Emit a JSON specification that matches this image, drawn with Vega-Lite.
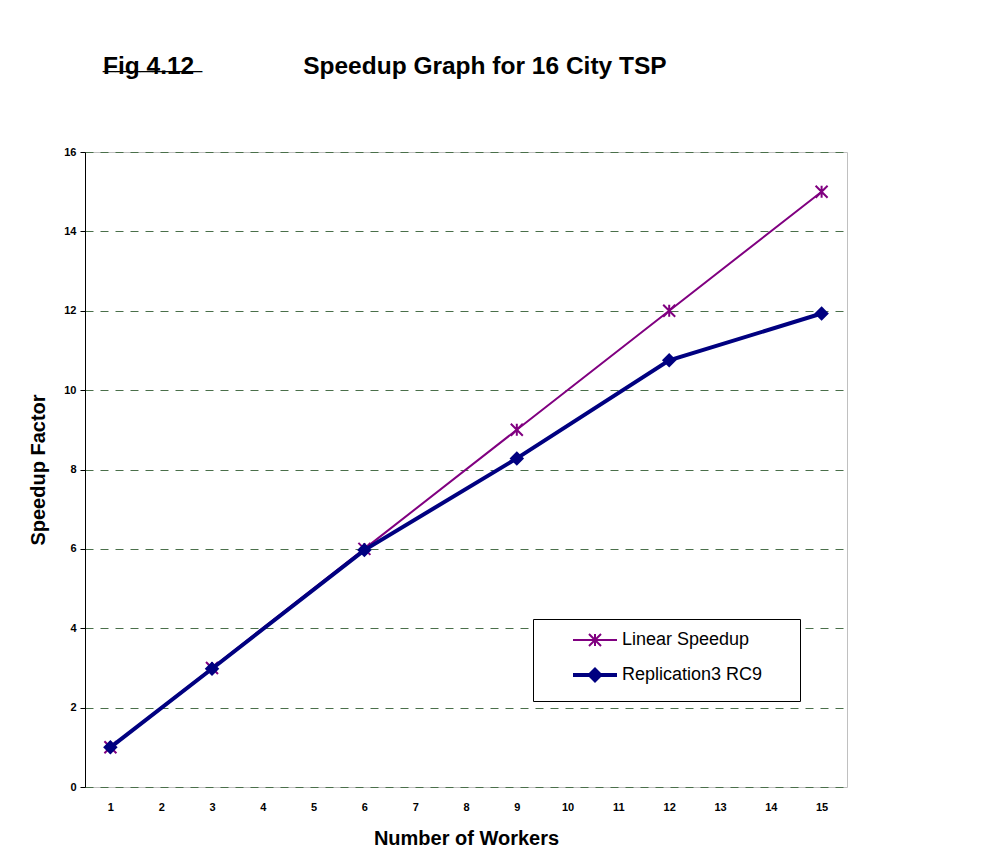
{
  "$schema": "https://vega.github.io/schema/vega-lite/v6.json",
  "autosize": {"type": "none"},
  "width": 762,
  "height": 635,
  "padding": {"left": 85, "top": 152, "right": 150, "bottom": 81},
  "background": "white",
  "title": {
    "text": "Fig 4.12\u00a0\u00a0\u00a0\u00a0\u00a0\u00a0\u00a0\u00a0\u00a0\u00a0\u00a0\u00a0\u00a0\u00a0\u00a0\u00a0Speedup Graph for 16 City TSP",
    "subtitle": "________",
    "anchor": "start",
    "frame": "group",
    "dx": 18,
    "offset": 62,
    "font": "Liberation Sans",
    "fontSize": 24.5,
    "fontWeight": "bold",
    "color": "black",
    "subtitleFont": "Liberation Sans",
    "subtitleFontSize": 22.3,
    "subtitleFontWeight": "normal",
    "subtitleColor": "black",
    "subtitlePadding": -30
  },
  "config": {
    "view": {"stroke": "#c0c0c0", "strokeWidth": 1},
    "font": "Liberation Sans"
  },
  "data": {
    "values": [
      {"workers": 1, "speedup": 1, "series": "Linear Speedup"},
      {"workers": 3, "speedup": 3, "series": "Linear Speedup"},
      {"workers": 6, "speedup": 6, "series": "Linear Speedup"},
      {"workers": 9, "speedup": 9, "series": "Linear Speedup"},
      {"workers": 12, "speedup": 12, "series": "Linear Speedup"},
      {"workers": 15, "speedup": 15, "series": "Linear Speedup"},
      {"workers": 1, "speedup": 1, "series": "Replication3 RC9"},
      {"workers": 3, "speedup": 2.98, "series": "Replication3 RC9"},
      {"workers": 6, "speedup": 5.97, "series": "Replication3 RC9"},
      {"workers": 9, "speedup": 8.28, "series": "Replication3 RC9"},
      {"workers": 12, "speedup": 10.75, "series": "Replication3 RC9"},
      {"workers": 15, "speedup": 11.93, "series": "Replication3 RC9"}
    ]
  },
  "encoding": {
    "x": {
      "field": "workers",
      "type": "ordinal",
      "scale": {"type": "point", "domain": [1,2,3,4,5,6,7,8,9,10,11,12,13,14,15], "padding": 0.5},
      "axis": {
        "title": "Number of Workers",
        "titleFont": "Liberation Sans",
        "titleFontSize": 20,
        "titleFontWeight": "bold",
        "titleColor": "black",
        "titlePadding": 16,
        "labelFont": "Liberation Sans",
        "labelFontSize": 11,
        "labelFontWeight": "bold",
        "labelColor": "black",
        "labelAngle": 0,
        "labelPadding": 14,
        "ticks": false,
        "domain": false,
        "grid": false
      }
    },
    "y": {
      "field": "speedup",
      "type": "quantitative",
      "scale": {"domain": [0, 16], "nice": false, "zero": true},
      "axis": {
        "title": "Speedup Factor",
        "titleFont": "Liberation Sans",
        "titleFontSize": 20,
        "titleFontWeight": "bold",
        "titleColor": "black",
        "titlePadding": 15,
        "values": [0,2,4,6,8,10,12,14,16],
        "format": "d",
        "labelFont": "Liberation Sans",
        "labelFontSize": 11,
        "labelFontWeight": "bold",
        "labelColor": "black",
        "labelPadding": 4,
        "tickColor": "black",
        "tickSize": 5,
        "domainColor": "black",
        "domainWidth": 1,
        "grid": true,
        "gridColor": "#4a6f4a",
        "gridDash": [8, 7],
        "gridWidth": 1,
        "gridOpacity": 1
      }
    },
    "color": {
      "field": "series",
      "type": "nominal",
      "scale": {"domain": ["Linear Speedup", "Replication3 RC9"], "range": ["#800080", "#000080"]},
      "legend": {
        "title": null,
        "orient": "none",
        "legendX": 448,
        "legendY": 467,
        "strokeColor": "black",
        "fillColor": "white",
        "padding": 12,
        "rowPadding": 10,
        "symbolSize": 215,
        "symbolOffset": 41,
        "labelOffset": 18,
        "labelLimit": 400,
        "labelFont": "Liberation Sans",
        "labelFontSize": 18,
        "labelColor": "black",
        "labelExpr": "datum.label + '\u00a0\u00a0\u00a0\u00a0\u00a0\u200b'",
        "encode": {
          "symbols": {
            "update": {
              "shape": {"signal": "datum.value === 'Linear Speedup' ? 'M-3,0L3,0M-0.82,-0.82L0.82,0.82M-0.82,0.82L0.82,-0.82M0,-0.82L0,0.82' : 'M-3,0L3,0M-0.7,0L0,-0.7L0.7,0L0,0.7Z'"},
              "strokeWidth": {"signal": "datum.value === 'Linear Speedup' ? 2 : 4"},
              "stroke": {"signal": "datum.value === 'Linear Speedup' ? '#800080' : '#000080'"},
              "fill": {"signal": "datum.value === 'Linear Speedup' ? 'transparent' : '#000080'"},
              "fillOpacity": {"value": 1},
              "strokeOpacity": {"value": 1},
              "opacity": {"value": 1}
            }
          }
        }
      }
    }
  },
  "layer": [
    {
      "transform": [{"filter": "datum.series === 'Linear Speedup'"}],
      "mark": {"type": "line", "strokeWidth": 2}
    },
    {
      "transform": [{"filter": "datum.series === 'Linear Speedup'"}],
      "mark": {"type": "point", "shape": "M-1,-1L1,1M-1,1L1,-1M0,-1L0,1", "size": 144, "filled": false, "strokeWidth": 2, "opacity": 1}
    },
    {
      "transform": [{"filter": "datum.series === 'Replication3 RC9'"}],
      "mark": {"type": "line", "strokeWidth": 4}
    },
    {
      "transform": [{"filter": "datum.series === 'Replication3 RC9'"}],
      "mark": {"type": "point", "shape": "diamond", "size": 210, "filled": true, "opacity": 1}
    }
  ]
}
